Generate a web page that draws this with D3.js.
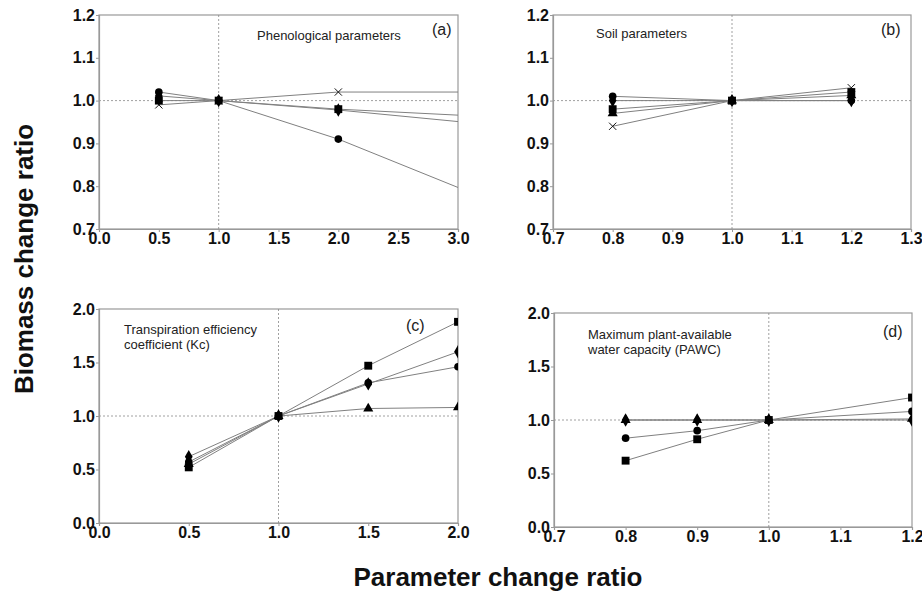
<!DOCTYPE html>
<html><head><meta charset="utf-8">
<script src="https://cdn.jsdelivr.net/npm/d3@7"></script>
<style>
body{margin:0;background:#fff;}
text{font-family:Arial,"Liberation Sans",sans-serif;}
</style></head>
<body><svg id="c" width="922" height="602"></svg>
<script>
// ---------- DATA ----------
// (a) Phenological parameters
const aX = [0.5, 1.0, 2.0, 3.0];
const aCircle = [1.02, 1.0, 0.91, 0.797];
const aSquare = [1.0, 1.0, 0.98, 0.966];
const aDiamond = [1.011, 1.0, 0.978, 0.951];
const aCross = [0.99, 1.0, 1.02, 1.02];
const aXTicks = [0.0, 0.5, 1.0, 1.5, 2.0, 2.5, 3.0];
const aYTicks = [0.7, 0.8, 0.9, 1.0, 1.1, 1.2];

// (b) Soil parameters
const bX = [0.8, 1.0, 1.2];
const bCircle = [1.01, 1.0, 1.0];
const bDiamond = [1.0, 1.0, 1.0];
const bSquare = [0.98, 1.0, 1.02];
const bTriangle = [0.97, 1.0, 1.012];
const bCross = [0.94, 1.0, 1.03];
const bXTicks = [0.7, 0.8, 0.9, 1.0, 1.1, 1.2, 1.3];
const bYTicks = [0.7, 0.8, 0.9, 1.0, 1.1, 1.2];

// (c) Transpiration efficiency coefficient (Kc)
const cX = [0.5, 1.0, 1.5, 2.0];
const cSquare = [0.52, 1.0, 1.47, 1.88];
const cDiamond = [0.62, 1.0, 1.30, 1.60];
const cCircle = [0.57, 1.0, 1.31, 1.46];
const cTriangle = [0.55, 1.0, 1.07, 1.08];
const cXTicks = [0.0, 0.5, 1.0, 1.5, 2.0];
const cYTicks = [0.0, 0.5, 1.0, 1.5, 2.0];

// (d) Maximum plant-available water capacity (PAWC)
const dX = [0.8, 0.9, 1.0, 1.2];
const dSquare = [0.62, 0.82, 1.0, 1.21];
const dCircle = [0.83, 0.90, 1.0, 1.08];
const dTriangle = [1.0, 1.0, 1.0, 1.01];
const dDiamond = [1.0, 1.0, 1.0, 1.0];
const dXTicks = [0.7, 0.8, 0.9, 1.0, 1.1, 1.2];
const dYTicks = [0.0, 0.5, 1.0, 1.5, 2.0];

const yTitle = "Biomass change ratio";
const xTitle = "Parameter change ratio";

// ---------- DRAW ----------
const svg = d3.select("#c");
const shapes = {
  circle: d3.symbolCircle, square: d3.symbolSquare, diamond: d3.symbolDiamond,
  triangle: d3.symbolTriangle, cross: d3.symbolTimes
};
const sizes = {circle: 46, square: 62, diamond: 52, triangle: 44, cross: 36};

const panels = [
  {id:"a", box:[99,15,458,229], xd:[0,3], yd:[0.7,1.2], xs:aX, xt:aXTicks, yt:aYTicks, hideEdge:true,
   series:[["cross",aCross],["diamond",aDiamond],["circle",aCircle],["square",aSquare]],
   label:["Phenological parameters"], labelPos:[257,40], tag:"(a)", tagPos:[432,35]},
  {id:"b", box:[553,15,911,229], xd:[0.7,1.3], yd:[0.7,1.2], xs:bX, xt:bXTicks, yt:bYTicks,
   series:[["cross",bCross],["triangle",bTriangle],["diamond",bDiamond],["circle",bCircle],["square",bSquare]],
   label:["Soil parameters"], labelPos:[596,38], tag:"(b)", tagPos:[881,35]},
  {id:"c", box:[99,309,458,523], xd:[0,2], yd:[0,2], xs:cX, xt:cXTicks, yt:cYTicks,
   series:[["triangle",cTriangle],["circle",cCircle],["diamond",cDiamond],["square",cSquare]],
   label:["Transpiration efficiency","coefficient (Kc)"], labelPos:[124,334], tag:"(c)", tagPos:[406,331]},
  {id:"d", box:[554,313,912,527], xd:[0.7,1.2], yd:[0,2], xs:dX, xt:dXTicks, yt:dYTicks,
   series:[["triangle",dTriangle],["diamond",dDiamond],["circle",dCircle],["square",dSquare]],
   label:["Maximum plant-available","water capacity (PAWC)"], labelPos:[588,339], tag:"(d)", tagPos:[883,337]}
];

const axisCol = "#999", lineCol = "#808080";

panels.forEach(p => {
  const [x0,y0,x1,y1] = p.box;
  const x = d3.scaleLinear().domain(p.xd).range([x0,x1]);
  const y = d3.scaleLinear().domain(p.yd).range([y1,y0]);
  const g = svg.append("g");
  g.append("clipPath").attr("id","clip"+p.id).append("rect")
    .attr("x",x0).attr("y",y0-6).attr("width",x1-x0).attr("height",y1-y0+6);

  // frame
  g.append("rect").attr("x",x0).attr("y",y0).attr("width",x1-x0).attr("height",y1-y0)
    .attr("fill","none").attr("stroke",axisCol).attr("stroke-width",1.2);
  // reference lines
  g.append("line").attr("x1",x(1)).attr("x2",x(1)).attr("y1",y0).attr("y2",y1)
    .attr("stroke","#888").attr("stroke-width",0.8).attr("stroke-dasharray","2,2");
  g.append("line").attr("x1",x0).attr("x2",x1).attr("y1",y(1)).attr("y2",y(1))
    .attr("stroke","#888").attr("stroke-width",0.8).attr("stroke-dasharray","2,2");

  // axes
  const xa = g.append("g").attr("transform",`translate(0,${y1})`)
    .call(d3.axisBottom(x).tickValues(p.xt).tickFormat(d3.format(".1f")).tickSize(3).tickPadding(1));
  const ya = g.append("g").attr("transform",`translate(${x0},0)`)
    .call(d3.axisLeft(y).tickValues(p.yt).tickFormat(d3.format(".1f")).tickSize(3).tickPadding(1));
  [xa,ya].forEach(a=>{
    a.select(".domain").attr("stroke",axisCol).attr("stroke-width",1.2);
    a.selectAll(".tick line").attr("stroke",axisCol);
    a.selectAll(".tick text").attr("fill","#111").attr("font-size",16).attr("font-weight","bold")
      .attr("font-family","Arial, 'Liberation Sans', sans-serif");
  });

  const plot = g.append("g").attr("clip-path",`url(#clip${p.id})`);
  const line = d3.line().x((d,i)=>x(p.xs[i])).y(d=>y(d));
  p.series.forEach(([shape,vals]) => {
    plot.append("path").attr("d",line(vals)).attr("fill","none")
      .attr("stroke",lineCol).attr("stroke-width",1);
  });
  p.series.forEach(([shape,vals]) => {
    vals.forEach((v,i) => {
      if (p.hideEdge && p.xs[i] >= p.xd[1]) return;
      const sym = d3.symbol().type(shapes[shape]).size(sizes[shape]);
      const el = plot.append("path").attr("d",sym())
        .attr("transform",`translate(${x(p.xs[i])},${y(v)})`);
      if (shape==="cross") el.attr("fill","none").attr("stroke","#111").attr("stroke-width",1);
      else el.attr("fill","#000");
    });
  });

  // labels
  const t = g.append("text").attr("x",p.labelPos[0]).attr("y",p.labelPos[1])
    .attr("font-size",13).attr("fill","#222");
  p.label.forEach((s,i)=> t.append("tspan").attr("x",p.labelPos[0]).attr("dy", i?15:0).text(s));
  g.append("text").attr("x",p.tagPos[0]).attr("y",p.tagPos[1]).attr("font-size",16)
    .attr("fill","#222").text(p.tag);
});

svg.append("text").attr("transform","translate(33,259) rotate(-90)")
  .attr("text-anchor","middle").attr("font-size",26).attr("font-weight","bold").attr("fill","#111")
  .text(yTitle);
svg.append("text").attr("x",498).attr("y",586).attr("text-anchor","middle")
  .attr("font-size",26).attr("font-weight","bold").attr("fill","#111").text(xTitle);
</script></body></html>
